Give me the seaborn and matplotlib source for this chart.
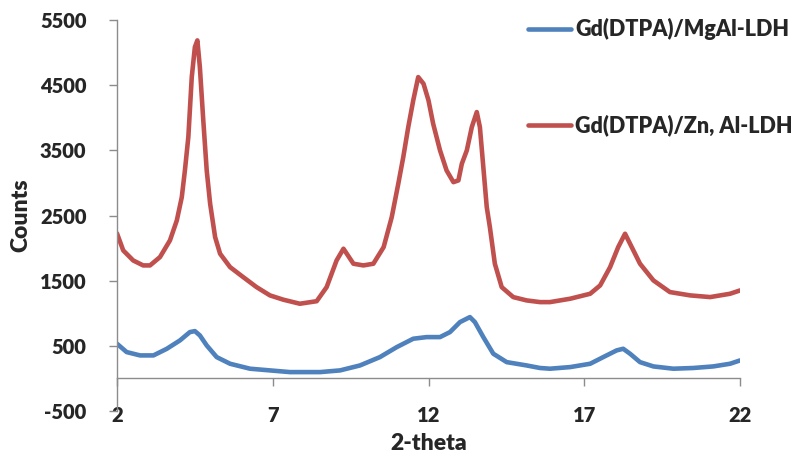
import matplotlib
matplotlib.use("Agg")
import matplotlib.pyplot as plt
import seaborn as sns
import pandas as pd
from matplotlib.lines import Line2D

# Diffraction patterns (2-theta in degrees, intensity in counts)
mgal_theta = [2.0, 2.31, 2.74, 3.17, 3.60, 4.02, 4.34, 4.50, 4.66, 4.88, 5.20, 5.63,
              6.27, 6.91, 7.55, 8.20, 8.52, 9.16, 9.80, 10.44, 10.98, 11.51, 11.94,
              12.37, 12.69, 13.01, 13.33, 13.49, 13.76, 14.08, 14.51, 15.15, 15.58,
              15.90, 16.55, 17.19, 17.61, 18.04, 18.25, 18.47, 18.79, 19.22, 19.86,
              20.50, 21.14, 21.68, 22.0]
mgal_counts = [532, 404, 353, 353, 455, 583, 711, 726, 660, 506, 327, 225,
               149, 123, 97, 97, 97, 123, 199, 327, 480, 609, 634,
               634, 711, 864, 941, 864, 634, 379, 250, 199, 160,
               149, 174, 225, 327, 430, 455, 379, 250, 184, 149,
               160, 184, 225, 276]

znal_theta = [2.0, 2.2, 2.52, 2.84, 3.06, 3.38, 3.70, 3.92, 4.08, 4.18, 4.29, 4.40,
              4.50, 4.58, 4.66, 4.77, 4.88, 4.99, 5.15, 5.31, 5.63, 6.05, 6.48,
              6.91, 7.34, 7.87, 8.41, 8.73, 9.05, 9.27, 9.59, 9.91, 10.23, 10.56,
              10.82, 11.03, 11.19, 11.35, 11.51, 11.67, 11.84, 12.0, 12.15, 12.37,
              12.58, 12.80, 12.96, 13.07, 13.23, 13.39, 13.55, 13.65, 13.76, 13.87,
              13.97, 14.13, 14.35, 14.72, 15.15, 15.58, 15.90, 16.55, 17.19, 17.51,
              17.83, 18.09, 18.31, 18.47, 18.79, 19.22, 19.75, 20.40, 21.04, 21.68,
              22.0]
znal_counts = [2225, 1964, 1810, 1734, 1734, 1862, 2118, 2424, 2782, 3192, 3703, 4624,
               5084, 5187, 4777, 3959, 3192, 2680, 2168, 1913, 1708, 1555, 1401,
               1274, 1208, 1146, 1185, 1401, 1811, 1990, 1760, 1734, 1760, 2015,
               2475, 2987, 3396, 3856, 4266, 4624, 4522, 4266, 3907, 3499,
               3192, 3012, 3038, 3294, 3499, 3856, 4087, 3856, 3243, 2629,
               2322, 1760, 1401, 1248, 1197, 1171, 1171, 1223, 1299, 1427,
               1708, 2015, 2220, 2067, 1760, 1504, 1325, 1274, 1248, 1299,
               1350]

series_names = ["Gd(DTPA)/MgAl-LDH", "Gd(DTPA)/Zn, Al-LDH"]
series_colors = ["#4F81BD", "#C0504D"]
x_ticks = [2, 7, 12, 17, 22]
y_ticks = [-500, 500, 1500, 2500, 3500, 4500, 5500]

sns.set_style("white")
font_list = ["Lato", "DejaVu Sans"]
plt.rcParams["font.family"] = font_list
plt.rcParams["font.weight"] = "heavy"

df = pd.concat([
    pd.DataFrame({"theta": mgal_theta, "counts": mgal_counts, "sample": series_names[0]}),
    pd.DataFrame({"theta": znal_theta, "counts": znal_counts, "sample": series_names[1]}),
])

fig = plt.figure(figsize=(8.02, 4.53), dpi=100)
ax = fig.add_axes([117 / 802, 42 / 453, 623 / 802, 391 / 453])

sns.lineplot(data=df, x="theta", y="counts", hue="sample", palette=series_colors,
             hue_order=series_names, linewidth=3.3, ax=ax, legend=False,
             estimator=None, sort=False)

ax.set_xlim(2, 22)
ax.set_ylim(-500, 5500)
ax.set_xticks(x_ticks)
ax.set_yticks(y_ticks)
ax.set_xticklabels([str(t) for t in x_ticks])
ax.set_yticklabels([str(t) for t in y_ticks])

axis_grey = "#8C8C8C"
for side in ("top", "right"):
    ax.spines[side].set_visible(False)
ax.spines["left"].set_color(axis_grey)
ax.spines["bottom"].set_color(axis_grey)
ax.spines["bottom"].set_position(("data", 0))
ax.spines["left"].set_linewidth(1.0)
ax.spines["bottom"].set_linewidth(1.0)

ax.tick_params(axis="y", direction="out", length=6, width=1.0, color=axis_grey,
               labelsize=14.5, pad=16, left=True)
ax.tick_params(axis="x", direction="out", length=6, width=1.0, color=axis_grey,
               labelsize=14.5, pad=14, bottom=True)
for lab in ax.get_xticklabels() + ax.get_yticklabels():
    lab.set_fontweight("heavy")

ax.set_xlabel("2-theta", fontsize=16.5, fontweight="heavy")
ax.set_ylabel("Counts", fontsize=16.5, fontweight="heavy")
ax.xaxis.set_label_coords(0.5, -0.084)
ax.xaxis.label.set_va("center")
ax.yaxis.set_label_coords(-0.154, 0.5)
ax.yaxis.label.set_va("center")

handles = [Line2D([0], [0], color=c, linewidth=3.3) for c in series_colors]
fig.legend(handles, series_names, loc="upper left",
           bbox_to_anchor=(528 / 802, 1 - 18 / 453), frameon=False,
           prop={"family": font_list, "weight": "heavy", "size": 15.5},
           handlelength=2.0, handletextpad=0.2, labelspacing=3.45,
           borderpad=0, borderaxespad=0)

fig.savefig("out.png", dpi=100)
